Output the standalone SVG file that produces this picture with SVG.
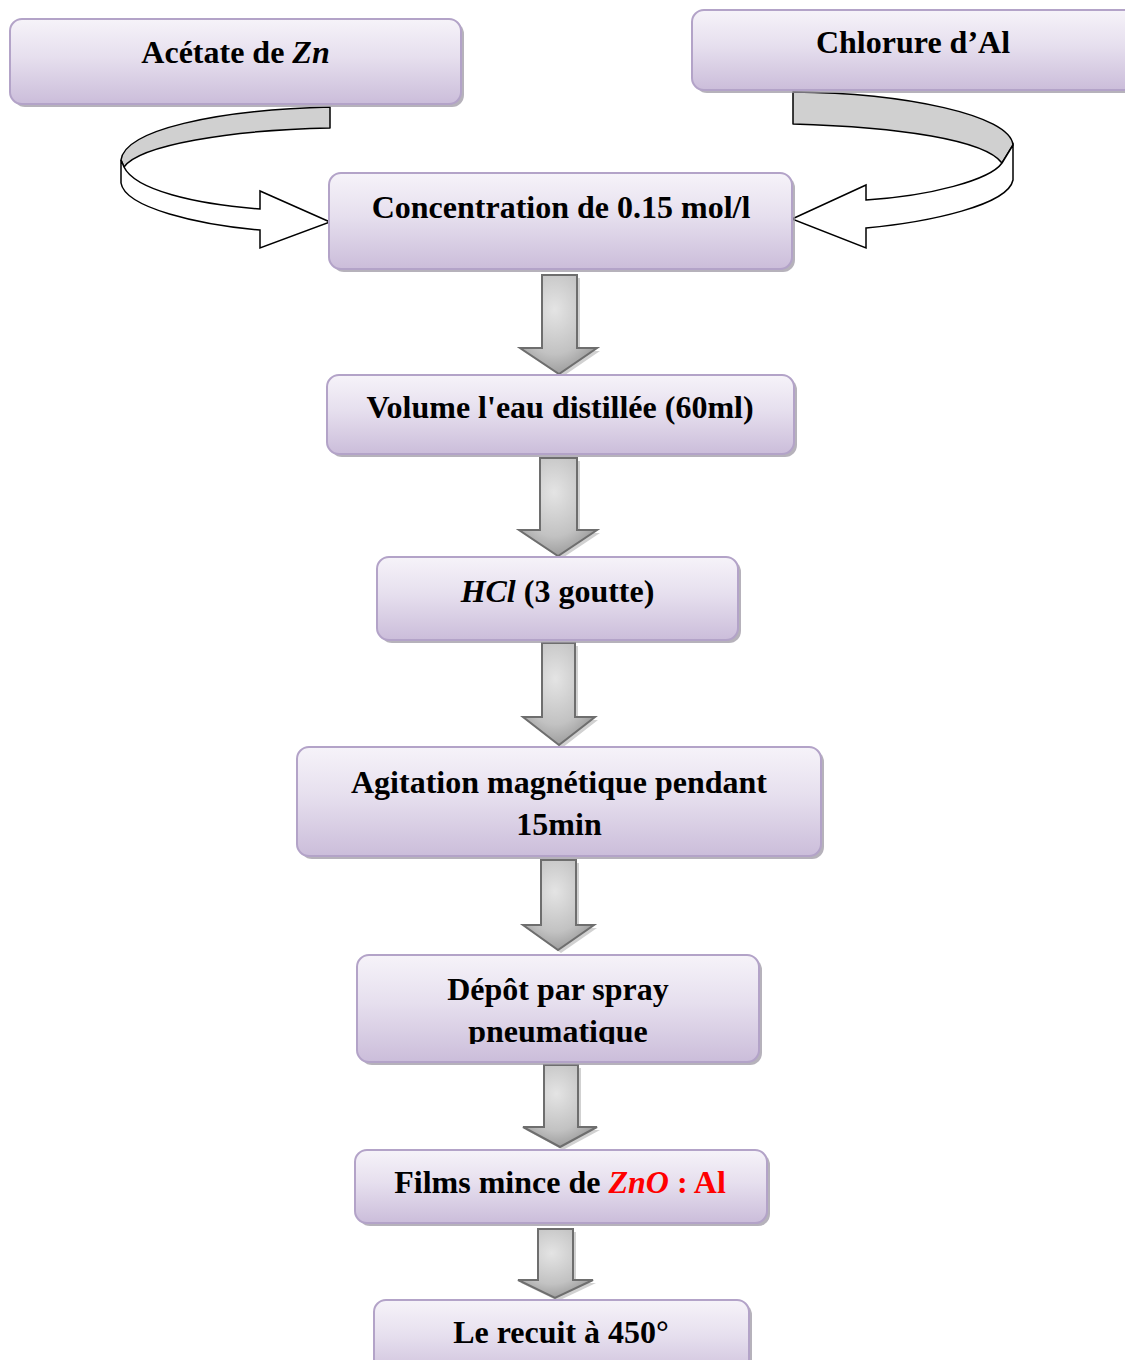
<svg xmlns="http://www.w3.org/2000/svg" width="1125" height="1360" viewBox="0 0 1125 1360">
<defs>
<linearGradient id="boxg" x1="0" y1="0" x2="0" y2="1">
<stop offset="0" stop-color="#f6f3f9"/>
<stop offset="0.45" stop-color="#e6dfee"/>
<stop offset="1" stop-color="#cbbdda"/>
</linearGradient>
<radialGradient id="arrg" cx="0.45" cy="0.35" r="0.75">
<stop offset="0" stop-color="#e4e4e4"/>
<stop offset="0.6" stop-color="#c2c2c2"/>
<stop offset="1" stop-color="#8c8c8c"/>
</radialGradient>
<clipPath id="clip7"><rect x="357" y="955" width="403" height="89"/></clipPath>
</defs>
<style>
.shadow{fill:#9d98a4;opacity:0.75}
.box{fill:url(#boxg);stroke:#b3a3c8;stroke-width:2}
.t{font-family:"Liberation Serif","Times New Roman",serif;font-weight:bold;font-size:32px;fill:#000;text-anchor:middle}
.it{font-style:italic}
.red{fill:#ff0000}
.down{fill:url(#arrg);stroke:#6e6e6e;stroke-width:2;stroke-linejoin:miter}
.dshadow{fill:#7a7a7a;opacity:0.35}
.cgray{fill:#d0d0d0;stroke:#000;stroke-width:1.5;stroke-linejoin:round}
.cwhite{fill:#fff;stroke:#000;stroke-width:1.5;stroke-linejoin:miter}
</style>
<rect width="1125" height="1360" fill="#fff"/>

<g id="connectors">
<g id="curve-left">
<path class="cgray" d="M330,107 C215,110 125,130 121,160 L124,167 C140,145 230,130 330,128 Z"/>
<path class="cwhite" d="M121,160 L121,183 C125,208 200,225 260,230 L260,248 L330,222 L260,191 L260,209 C195,204 135,190 124,167 Z"/>
</g>
<g id="curve-right">
<path class="cgray" d="M793,92 C905,93 1010,115 1013,145 L1002,163 C985,140 900,127 793,124 Z"/>
<path class="cwhite" d="M1013,145 L1013,180 C1008,205 930,222 866,228 L866,248 L792,219 L866,185 L866,200 C930,196 990,180 1002,163 Z"/>
</g>
<g id="arrow1"><path class="dshadow" d="M545,278 L580,278 L580,351 L600,351 L562,377 L523,351 L545,351 Z"/><path class="down" d="M542,275 L577,275 L577,348 L597,348 L559,374 L520,348 L542,348 Z"/></g>
<g id="arrow2"><path class="dshadow" d="M543,461 L580,461 L580,533 L600,533 L561,559 L522,533 L543,533 Z"/><path class="down" d="M540,458 L577,458 L577,530 L597,530 L558,556 L519,530 L540,530 Z"/></g>
<g id="arrow3"><path class="dshadow" d="M545,646 L578,646 L578,720 L598,720 L562,748 L526,720 L545,720 Z"/><path class="down" d="M542,643 L575,643 L575,717 L595,717 L559,745 L523,717 L542,717 Z"/></g>
<g id="arrow4"><path class="dshadow" d="M544,863 L579,863 L579,928 L597,928 L561,953 L526,928 L544,928 Z"/><path class="down" d="M541,860 L576,860 L576,925 L594,925 L558,950 L523,925 L541,925 Z"/></g>
<g id="arrow5"><path class="dshadow" d="M547,1068 L581,1068 L581,1130 L600,1130 L563,1150 L526,1130 L547,1130 Z"/><path class="down" d="M544,1065 L578,1065 L578,1127 L597,1127 L560,1147 L523,1127 L544,1127 Z"/></g>
<g id="arrow6"><path class="dshadow" d="M541,1232 L576,1232 L576,1283 L596,1283 L558,1301 L521,1283 L541,1283 Z"/><path class="down" d="M538,1229 L573,1229 L573,1280 L593,1280 L555,1298 L518,1280 L538,1280 Z"/></g>
</g>

<g id="node-acetate">
<rect class="shadow" x="13" y="22" width="451" height="85" rx="12"/>
<rect class="box" x="10" y="19" width="451" height="85" rx="12"/>
<text class="t" x="235.5" y="63">Acétate de <tspan class="it">Zn</tspan></text>
</g>
<g id="node-chlorure">
<rect class="shadow" x="695" y="13" width="450" height="80" rx="12"/>
<rect class="box" x="692" y="10" width="450" height="80" rx="12"/>
<text class="t" x="913" y="53">Chlorure d’Al</text>
</g>
<g id="node-concentration">
<rect class="shadow" x="332" y="176" width="463" height="96" rx="12"/>
<rect class="box" x="329" y="173" width="463" height="96" rx="12"/>
<text class="t" x="561" y="218">Concentration de 0.15 mol/l</text>
</g>
<g id="node-volume">
<rect class="shadow" x="330" y="378" width="467" height="79" rx="12"/>
<rect class="box" x="327" y="375" width="467" height="79" rx="12"/>
<text class="t" x="560" y="418">Volume l'eau distillée (60ml)</text>
</g>
<g id="node-hcl">
<rect class="shadow" x="380" y="560" width="361" height="83" rx="12"/>
<rect class="box" x="377" y="557" width="361" height="83" rx="12"/>
<text class="t" x="557.5" y="602"><tspan class="it">HCl</tspan> (3 goutte)</text>
</g>
<g id="node-agitation">
<rect class="shadow" x="300" y="750" width="524" height="109" rx="12"/>
<rect class="box" x="297" y="747" width="524" height="109" rx="12"/>
<text class="t" x="559" y="793">Agitation magnétique pendant</text>
<text class="t" x="559" y="835">15min</text>
</g>
<g id="node-depot">
<rect class="shadow" x="360" y="958" width="402" height="107" rx="12"/>
<rect class="box" x="357" y="955" width="402" height="107" rx="12"/>
<text class="t" x="558" y="1000">Dépôt par spray</text>
<text class="t" x="558" y="1042" clip-path="url(#clip7)">pneumatique</text>
</g>
<g id="node-films">
<rect class="shadow" x="358" y="1153" width="412" height="73" rx="12"/>
<rect class="box" x="355" y="1150" width="412" height="73" rx="12"/>
<text class="t" x="560" y="1193">Films mince de <tspan class="it red">ZnO</tspan><tspan class="red"> : Al</tspan></text>
</g>
<g id="node-recuit">
<rect class="shadow" x="377" y="1303" width="375" height="80" rx="12"/>
<rect class="box" x="374" y="1300" width="375" height="80" rx="12"/>
<text class="t" x="561" y="1343">Le recuit à 450°</text>
</g>
</svg>
